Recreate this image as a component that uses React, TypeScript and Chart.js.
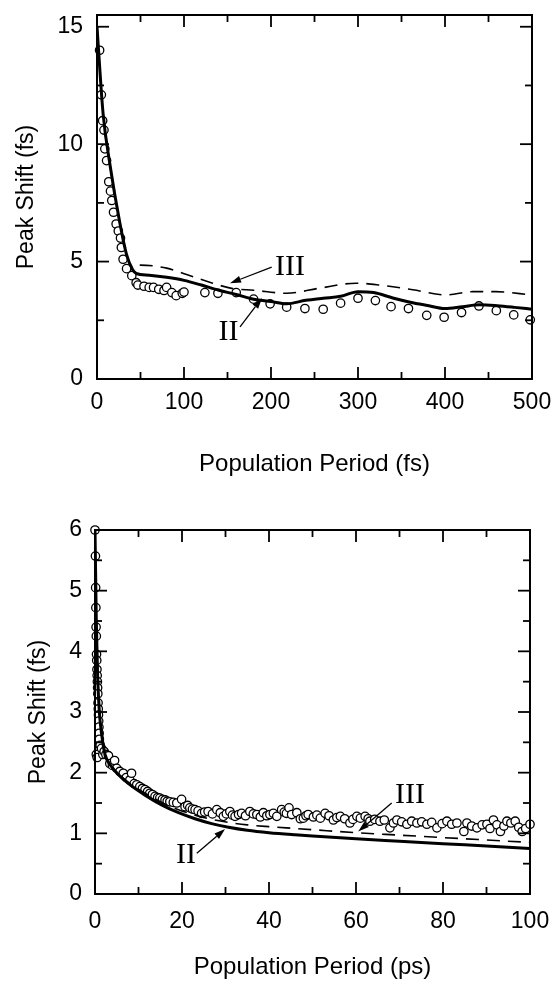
import React, { useEffect, useRef } from 'react';
import { Chart, registerables } from 'chart.js';

Chart.register(...registerables);

// ---------------- Top panel (fs) ----------------
const topCircleX = [3, 5, 6.5, 8, 9, 11, 13.5, 15.5, 17, 19, 22, 24.5, 27, 28, 30, 34, 40, 45, 47, 54, 60, 65, 71, 77, 80, 86, 91, 98, 100,
  124, 139, 160, 180, 199, 218, 239, 260, 280, 300, 320, 338, 358, 379, 399, 419, 439, 459, 479, 498];
const topCircleY = [14.0, 12.1, 11.0, 10.6, 9.8, 9.3, 8.4, 8.0, 7.6, 7.1, 6.6, 6.3, 6.0, 5.6, 5.1, 4.7, 4.4, 4.1, 4.0, 3.95, 3.9, 3.9, 3.82, 3.77, 3.9, 3.68, 3.55, 3.65, 3.7,
  3.68, 3.65, 3.68, 3.4, 3.2, 3.06, 3.0, 2.97, 3.23, 3.44, 3.34, 3.08, 3.0, 2.71, 2.63, 2.83, 3.11, 2.91, 2.73, 2.52];

const topIIX = [0, 7, 15, 26, 34, 41, 45, 60, 80, 100, 120, 140, 160, 180, 200, 218, 240, 260, 280, 300, 318, 340, 360, 380, 400, 420, 440, 460, 480, 500];
const topIIY = [15.0, 11.3, 9.1, 6.7, 5.3, 4.65, 4.5, 4.42, 4.33, 4.2, 4.0, 3.78, 3.6, 3.4, 3.3, 3.2, 3.35, 3.44, 3.52, 3.72, 3.68, 3.45, 3.27, 3.13, 3.0, 3.08, 3.16, 3.12, 3.05, 2.97];

const topIIIX = [0, 7, 15, 26, 34, 41, 50, 80, 103, 133, 156, 180, 218, 256, 298, 325, 363, 401, 432, 458, 500];
const topIIIY = [15.0, 11.3, 9.1, 6.7, 5.3, 4.75, 4.85, 4.72, 4.45, 4.08, 3.85, 3.78, 3.65, 3.87, 4.08, 4.0, 3.8, 3.58, 3.72, 3.72, 3.58];

const topXTicks = [0, 100, 200, 300, 400, 500];
const topXMinor = [50, 150, 250, 350, 450];
const topYTicks = [0, 5, 10, 15];
const topYMinor = [2.5, 7.5, 12.5];

const topNoteText = ['III', 'II'];
const topNoteX = [221.8, 151.1];
const topNoteY = [4.86, 2.09];
const topArrowFromX = [200.8, 164.4];
const topArrowFromY = [4.76, 2.22];
const topArrowToX = [152.9, 189.7];
const topArrowToY = [4.08, 3.45];

// ---------------- Bottom panel (ps) ----------------
const botCircleX = [0.0, 0.1, 0.15, 0.2, 0.25, 0.3, 0.35, 0.4, 0.45, 0.5, 0.55, 0.6, 0.65, 0.7, 0.75, 0.8, 0.85, 0.9, 0.95, 1.0, 0.3, 0.5,
  1.2, 1.5, 1.8, 2.1, 2.5, 3.1, 3.4, 4.0, 4.5, 5.0, 5.7, 6.5, 7.2, 8.0, 8.4, 9.0, 9.6, 10.3, 10.9, 11.5, 12.1, 12.6, 13.2, 13.8, 14.4, 14.9,
  15.5, 16.1, 16.6, 17.2, 18.0, 18.8, 19.9, 20.7, 21.3, 21.8, 22.4, 23.0, 23.7, 24.5, 25.2, 26.0, 27.0, 28.0, 28.8, 29.5, 30.2, 31.0,
  31.6, 32.2, 33.0, 33.7, 34.6, 35.6, 36.4, 37.2, 38.0, 38.7, 39.5, 40.2, 41.0, 41.8, 42.9, 43.5, 44.0, 44.6, 45.2, 46.4, 47.2, 47.9,
  48.5, 49.0, 50.2, 51.0, 51.8, 52.9, 53.8, 54.8, 55.6, 56.4, 57.4, 58.6, 59.3, 60.2, 61.0, 62.1, 62.8, 63.2, 64.3, 65.5, 66.5, 67.8,
  68.6, 69.4, 70.5, 71.7, 72.8, 74.0, 75.1, 76.3, 77.4, 78.6, 79.8, 80.9, 82.0, 83.2, 84.8, 85.5, 86.6, 87.8, 89.0, 90.1, 90.8, 91.6,
  92.4, 93.2, 94.0, 94.7, 95.6, 96.6, 97.4, 98.2, 99.0, 100.0];
const botCircleY = [6.0, 5.57, 5.05, 4.72, 4.4, 4.25, 3.95, 3.85, 3.7, 3.6, 3.5, 3.4, 3.3, 3.15, 3.05, 2.95, 2.85, 2.75, 2.65, 2.55, 2.3, 2.25,
  2.45, 2.4, 2.3, 2.35, 2.3, 2.28, 2.15, 2.12, 2.2, 2.07, 2.02, 1.99, 1.92, 1.88, 1.99, 1.82, 1.8, 1.77, 1.74, 1.72, 1.69, 1.66, 1.64, 1.61, 1.59, 1.58,
  1.56, 1.55, 1.53, 1.52, 1.51, 1.5, 1.56, 1.44, 1.46, 1.42, 1.4, 1.39, 1.37, 1.33, 1.35, 1.36, 1.32, 1.39, 1.34, 1.28, 1.32, 1.36,
  1.3, 1.28, 1.31, 1.33, 1.29, 1.36, 1.32, 1.31, 1.27, 1.34, 1.29, 1.31, 1.33, 1.28, 1.39, 1.35, 1.33, 1.42, 1.31, 1.34, 1.24, 1.25,
  1.29, 1.31, 1.27, 1.3, 1.25, 1.33, 1.29, 1.22, 1.26, 1.28, 1.24, 1.17, 1.23, 1.28, 1.25, 1.28, 1.24, 1.2, 1.23, 1.2, 1.22, 1.09,
  1.17, 1.22, 1.19, 1.15, 1.2, 1.17, 1.19, 1.15, 1.18, 1.09, 1.16, 1.2, 1.15, 1.17, 1.03, 1.17, 1.12, 1.09, 1.14, 1.15, 1.08, 1.22,
  1.14, 1.03, 1.12, 1.2, 1.17, 1.2, 1.1, 1.03, 1.08, 1.15];

const botIIX = [0, 0.3, 0.6, 1.0, 1.5, 2.3, 3.8, 5.5, 7.7, 11.5, 15.3, 19.2, 23, 26.8, 30.7, 35, 40, 46, 50, 60, 70, 80, 90, 100];
const botIIY = [6.0, 4.5, 3.6, 3.0, 2.65, 2.3, 2.1, 1.96, 1.82, 1.63, 1.47, 1.34, 1.24, 1.16, 1.1, 1.05, 1.01, 0.975, 0.955, 0.91, 0.87, 0.83, 0.79, 0.75];

const botIIIX = [0, 0.3, 0.6, 1.0, 1.5, 2.3, 3.8, 5.5, 7.7, 11.5, 15.3, 19.2, 23, 26.8, 30.7, 35, 40, 46, 50, 60, 70, 80, 90, 100];
const botIIIY = [6.0, 4.5, 3.6, 3.0, 2.65, 2.3, 2.1, 1.97, 1.84, 1.66, 1.51, 1.39, 1.3, 1.23, 1.18, 1.14, 1.11, 1.08, 1.06, 1.01, 0.97, 0.93, 0.89, 0.85];

const botXTicks = [0, 20, 40, 60, 80, 100];
const botXMinor = [10, 30, 50, 70, 90];
const botYTicks = [0, 1, 2, 3, 4, 5, 6];
const botYMinor = [0.5, 1.5, 2.5, 3.5, 4.5, 5.5];

const botNoteText = ['III', 'II'];
const botNoteX = [72.4, 20.9];
const botNoteY = [1.66, 0.68];
const botArrowFromX = [68.2, 23.4];
const botArrowFromY = [1.5, 0.67];
const botArrowToX = [60.5, 29.9];
const botArrowToY = [1.03, 1.07];

const SANS = '"Liberation Sans", Arial, Helvetica, sans-serif';
const SERIF = '"Liberation Serif", "Times New Roman", serif';

type PanelCfg = {
  width: number;
  height: number;
  xMin: number; xMax: number; yMin: number; yMax: number;
  xTicks: number[]; xMinor: number[]; yTicks: number[]; yMinor: number[];
  circleX: number[]; circleY: number[];
  iiX: number[]; iiY: number[];
  iiiX: number[]; iiiY: number[];
  noteText: string[]; noteX: number[]; noteY: number[];
  arrFromX: number[]; arrFromY: number[]; arrToX: number[]; arrToY: number[];
  xTitle: string; yTitle: string;
  padTop: number; padRight: number;
  yWidth: number; xHeight: number;
  xLabelPad: number; yLabelPad: number;
  xTitlePadBottom: number; yTitlePadTop: number;
};

function toPts(xs: number[], ys: number[]) {
  return xs.map((x, i) => ({ x, y: ys[i] }));
}

function framePlugin(cfg: PanelCfg) {
  return {
    id: 'frameTicksNotes',
    afterDatasetsDraw(chart: any) {
      const { ctx, chartArea: a, scales } = chart;
      const xs = scales.x;
      const ys = scales.y;
      ctx.save();
      ctx.strokeStyle = '#000';
      ctx.fillStyle = '#000';
      ctx.lineCap = 'butt';
      ctx.lineWidth = 2;
      ctx.strokeRect(a.left, a.top, a.right - a.left, a.bottom - a.top);
      const seg = (x1: number, y1: number, x2: number, y2: number) => {
        ctx.beginPath();
        ctx.moveTo(x1, y1);
        ctx.lineTo(x2, y2);
        ctx.stroke();
      };
      ctx.lineWidth = 1.8;
      const drawX = (vals: number[], len: number) => {
        vals.forEach((v) => {
          const p = xs.getPixelForValue(v);
          seg(p, a.bottom, p, a.bottom - len);
          seg(p, a.top, p, a.top + len);
        });
      };
      const drawY = (vals: number[], len: number) => {
        vals.forEach((v) => {
          const p = ys.getPixelForValue(v);
          seg(a.left, p, a.left + len, p);
          seg(a.right, p, a.right - len, p);
        });
      };
      drawX(cfg.xTicks, 12);
      drawX(cfg.xMinor, 7);
      drawY(cfg.yTicks, 12);
      drawY(cfg.yMinor, 7);

      // annotations
      ctx.font = '30px ' + SERIF;
      ctx.textAlign = 'center';
      ctx.textBaseline = 'middle';
      cfg.noteText.forEach((t, i) => {
        ctx.fillText(t, xs.getPixelForValue(cfg.noteX[i]), ys.getPixelForValue(cfg.noteY[i]) + 2);
      });
      ctx.lineWidth = 1.3;
      cfg.arrFromX.forEach((fx, i) => {
        const x1 = xs.getPixelForValue(fx);
        const y1 = ys.getPixelForValue(cfg.arrFromY[i]);
        const x2 = xs.getPixelForValue(cfg.arrToX[i]);
        const y2 = ys.getPixelForValue(cfg.arrToY[i]);
        const ang = Math.atan2(y2 - y1, x2 - x1);
        const hl = 11;
        const hw = 3.5;
        const bx = x2 - hl * Math.cos(ang);
        const by = y2 - hl * Math.sin(ang);
        seg(x1, y1, bx, by);
        ctx.beginPath();
        ctx.moveTo(x2, y2);
        ctx.lineTo(bx + hw * Math.sin(ang), by - hw * Math.cos(ang));
        ctx.lineTo(bx - hw * Math.sin(ang), by + hw * Math.cos(ang));
        ctx.closePath();
        ctx.fill();
      });
      ctx.restore();
    },
  };
}

function Panel({ cfg }: { cfg: PanelCfg }) {
  const ref = useRef<HTMLCanvasElement | null>(null);
  useEffect(() => {
    if (!ref.current) return;
    const chart = new Chart(ref.current, {
      type: 'scatter',
      data: {
        datasets: [
          {
            label: 'II',
            data: toPts(cfg.iiX, cfg.iiY),
            showLine: true,
            borderColor: '#000',
            borderWidth: 3,
            pointRadius: 0,
            cubicInterpolationMode: 'monotone',
            fill: false,
            order: 1,
          } as any,
          {
            label: 'III',
            data: toPts(cfg.iiiX, cfg.iiiY),
            showLine: true,
            borderColor: '#000',
            borderWidth: 1.6,
            borderDash: [13, 8],
            pointRadius: 0,
            cubicInterpolationMode: 'monotone',
            fill: false,
            order: 2,
          } as any,
          {
            label: 'data',
            data: toPts(cfg.circleX, cfg.circleY),
            showLine: false,
            pointRadius: 4.2,
            pointBorderWidth: 1.3,
            pointBorderColor: '#000',
            pointBackgroundColor: '#fff',
            clip: false,
            order: 3,
          } as any,
        ],
      },
      options: {
        animation: false,
        responsive: false,
        maintainAspectRatio: false,
        events: [],
        layout: { padding: { top: cfg.padTop, right: cfg.padRight, left: 0, bottom: 0 } },
        plugins: { legend: { display: false }, tooltip: { enabled: false }, title: { display: false } },
        scales: {
          x: {
            type: 'linear',
            position: 'bottom',
            min: cfg.xMin,
            max: cfg.xMax,
            afterBuildTicks: (s: any) => { s.ticks = cfg.xTicks.map((v) => ({ value: v })); },
            afterFit: (s: any) => { s.height = cfg.xHeight; s.paddingLeft = 0; s.paddingRight = 0; },
            grid: { display: false, drawTicks: false },
            border: { display: false },
            ticks: {
              padding: cfg.xLabelPad,
              color: '#000',
              maxRotation: 0,
              autoSkip: false,
              font: { family: SANS, size: 23 },
            },
            title: {
              display: true,
              text: cfg.xTitle,
              color: '#000',
              font: { family: SANS, size: 24 },
              padding: { top: 0, bottom: cfg.xTitlePadBottom },
            },
          },
          y: {
            type: 'linear',
            position: 'left',
            min: cfg.yMin,
            max: cfg.yMax,
            afterBuildTicks: (s: any) => { s.ticks = cfg.yTicks.map((v) => ({ value: v })); },
            afterFit: (s: any) => { s.width = cfg.yWidth; s.paddingTop = 0; s.paddingBottom = 0; },
            grid: { display: false, drawTicks: false },
            border: { display: false },
            ticks: {
              padding: cfg.yLabelPad,
              color: '#000',
              autoSkip: false,
              font: { family: SANS, size: 23 },
            },
            title: {
              display: true,
              text: cfg.yTitle,
              color: '#000',
              font: { family: SANS, size: 23 },
              padding: { top: cfg.yTitlePadTop, bottom: 0 },
            },
          },
        },
      } as any,
      plugins: [framePlugin(cfg)],
    });
    return () => chart.destroy();
  }, [cfg]);
  return (
    <canvas
      ref={ref}
      width={cfg.width}
      height={cfg.height}
      style={{ display: 'block', width: cfg.width + 'px', height: cfg.height + 'px' }}
    />
  );
}

const topCfg: PanelCfg = {
  width: 555, height: 491,
  xMin: 0, xMax: 500, yMin: 0, yMax: 15.5,
  xTicks: topXTicks, xMinor: topXMinor, yTicks: topYTicks, yMinor: topYMinor,
  circleX: topCircleX, circleY: topCircleY,
  iiX: topIIX, iiY: topIIY, iiiX: topIIIX, iiiY: topIIIY,
  noteText: topNoteText, noteX: topNoteX, noteY: topNoteY,
  arrFromX: topArrowFromX, arrFromY: topArrowFromY, arrToX: topArrowToX, arrToY: topArrowToY,
  xTitle: 'Population Period (fs)', yTitle: 'Peak Shift (fs)',
  padTop: 15, padRight: 23, yWidth: 97, xHeight: 112,
  xLabelPad: 10, yLabelPad: 14, xTitlePadBottom: 12, yTitlePadTop: 13,
};

const botCfg: PanelCfg = {
  width: 555, height: 491,
  xMin: 0, xMax: 100, yMin: 0, yMax: 6,
  xTicks: botXTicks, xMinor: botXMinor, yTicks: botYTicks, yMinor: botYMinor,
  circleX: botCircleX, circleY: botCircleY,
  iiX: botIIX, iiY: botIIY, iiiX: botIIIX, iiiY: botIIIY,
  noteText: botNoteText, noteX: botNoteX, noteY: botNoteY,
  arrFromX: botArrowFromX, arrFromY: botArrowFromY, arrToX: botArrowToX, arrToY: botArrowToY,
  xTitle: 'Population Period (ps)', yTitle: 'Peak Shift (fs)',
  padTop: 39, padRight: 25, yWidth: 95, xHeight: 88,
  xLabelPad: 14, yLabelPad: 13, xTitlePadBottom: 0, yTitlePadTop: 25,
};

export default function App() {
  return (
    <div style={{ position: 'absolute', left: 0, top: 0, width: 555, height: 982, overflow: 'hidden', background: '#fff' }}>
      <Panel cfg={topCfg} />
      <Panel cfg={botCfg} />
    </div>
  );
}
